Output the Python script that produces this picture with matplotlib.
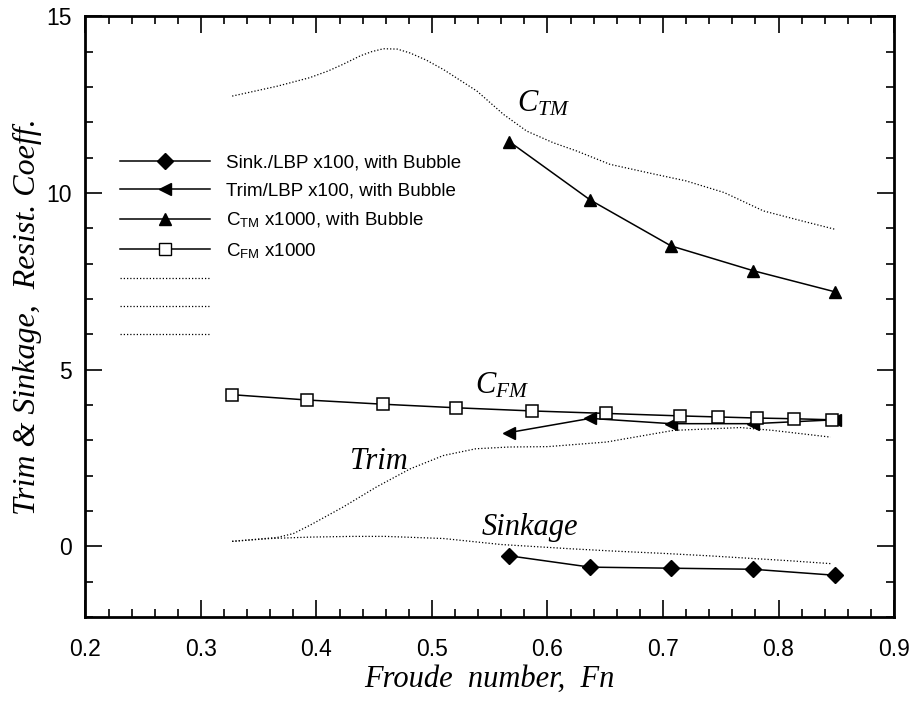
import matplotlib
matplotlib.use("Agg")
import matplotlib.pyplot as plt
from matplotlib.lines import Line2D

plt.rcParams['mathtext.fontset'] = 'custom'
plt.rcParams['mathtext.rm'] = 'Liberation Sans'
plt.rcParams['mathtext.it'] = 'Liberation Serif:italic'
plt.rcParams['font.family'] = 'Liberation Sans'

# measured points, with bubble
fn_bubble = [0.567, 0.637, 0.707, 0.778, 0.849]
sink_bubble = [-0.27, -0.59, -0.62, -0.65, -0.82]
trim_bubble = [3.22, 3.62, 3.47, 3.47, 3.58]
ctm_bubble = [11.45, 9.80, 8.50, 7.80, 7.20]

# frictional resistance
fn_cfm = [0.327, 0.392, 0.458, 0.521, 0.587, 0.651, 0.715, 0.748, 0.781, 0.813, 0.846]
cfm = [4.29, 4.14, 4.02, 3.92, 3.83, 3.76, 3.69, 3.66, 3.63, 3.61, 3.58]

# without bubble (dotted)
fn_ctm = [0.327, 0.366, 0.394, 0.410, 0.423, 0.438, 0.448, 0.458, 0.470, 0.481,
          0.495, 0.510, 0.539, 0.562, 0.582, 0.605, 0.625, 0.654, 0.690, 0.720,
          0.753, 0.770, 0.787, 0.820, 0.849]
ctm = [12.74, 13.02, 13.26, 13.45, 13.64, 13.88, 14.00, 14.08, 14.07, 13.96,
       13.76, 13.49, 12.88, 12.22, 11.75, 11.42, 11.19, 10.81, 10.55, 10.34,
       10.01, 9.75, 9.49, 9.21, 8.97]

fn_trim = [0.327, 0.366, 0.380, 0.394, 0.423, 0.452, 0.481, 0.510, 0.538, 0.567,
           0.600, 0.651, 0.709, 0.767, 0.795, 0.845]
trim = [0.14, 0.25, 0.36, 0.59, 1.11, 1.68, 2.19, 2.57, 2.76, 2.81,
        2.82, 2.95, 3.28, 3.36, 3.28, 3.09]

fn_sink = [0.327, 0.360, 0.394, 0.430, 0.460, 0.510, 0.560, 0.620, 0.660, 0.700,
           0.740, 0.780, 0.810, 0.845]
sink = [0.14, 0.22, 0.26, 0.28, 0.28, 0.22, 0.05, -0.07, -0.14, -0.20,
        -0.27, -0.35, -0.41, -0.49]

fig = plt.figure(figsize=(9.16, 7.09), dpi=100)
ax = fig.add_axes([0.0933, 0.1298, 0.8827, 0.8473])

lw = 1.1
ax.plot(fn_bubble, sink_bubble, '-', color='k', lw=lw, marker='D', ms=8, mfc='k')
ax.plot(fn_bubble, trim_bubble, '-', color='k', lw=lw, marker='<', ms=9, mfc='k')
ax.plot(fn_bubble, ctm_bubble, '-', color='k', lw=lw, marker='^', ms=9, mfc='k')
ax.plot(fn_cfm, cfm, '-', color='k', lw=lw, marker='s', ms=8, mfc='white', mew=1.1)

dot = dict(color='k', lw=0.9, linestyle=(0, (1, 1.6)))
ax.plot(fn_ctm, ctm, **dot)
ax.plot(fn_trim, trim, **dot)
ax.plot(fn_sink, sink, **dot)

ann = dict(fontsize=22)
ax.text(0.574, 12.3, r'$C_{TM}$', **ann)
ax.text(0.537, 4.32, r'$C_{FM}$', **ann)
ax.text(0.429, 2.2, 'Trim', family='Liberation Serif', style='italic', **ann)
ax.text(0.543, 0.31, 'Sinkage', family='Liberation Serif', style='italic', **ann)

handles = [
    Line2D([], [], color='k', lw=lw, marker='D', ms=8),
    Line2D([], [], color='k', lw=lw, marker='<', ms=9),
    Line2D([], [], color='k', lw=lw, marker='^', ms=9),
    Line2D([], [], color='k', lw=lw, marker='s', ms=8, mfc='white'),
    Line2D([], [], **dot),
    Line2D([], [], **dot),
    Line2D([], [], **dot),
]
labels = ['Sink./LBP x100, with Bubble', 'Trim/LBP x100, with Bubble',
          r'C$_{\mathrm{TM}}$ x1000, with Bubble', r'C$_{\mathrm{FM}}$ x1000', '', '', '']
ax.legend(handles, labels, loc='upper left', bbox_to_anchor=(0.033, 0.782),
          frameon=False, fontsize=13.5, handlelength=4.8, handletextpad=0.85,
          labelspacing=0.58, numpoints=1, borderaxespad=0)

ax.set_xlim(0.2, 0.9)
ax.set_ylim(-2, 15)
ax.set_xticks([0.2, 0.3, 0.4, 0.5, 0.6, 0.7, 0.8, 0.9])
ax.set_yticks([0, 5, 10, 15])
ax.set_xticks([0.2 + 0.02 * i for i in range(36)], minor=True)
ax.set_yticks(list(range(-2, 16)), minor=True)
ax.tick_params(which='both', direction='in', top=True, right=True, width=1.2)
ax.tick_params(which='major', length=12, labelsize=16.5)
ax.tick_params(axis='x', which='major', pad=15)
ax.tick_params(axis='y', which='major', pad=10)
ax.tick_params(which='minor', length=6)
for s in ax.spines.values():
    s.set_linewidth(2)

ax.set_xlabel('Froude  number,  Fn', family='Liberation Serif', style='italic',
              fontsize=22)
ax.set_ylabel('Trim & Sinkage,  Resist. Coeff.', family='Liberation Serif',
              style='italic', fontsize=23)
ax.xaxis.set_label_coords(0.5, -0.079)
ax.yaxis.set_label_coords(-0.072, 0.5)
ax.xaxis.label.set_va('top')
ax.yaxis.label.set_va('center')

fig.savefig('out.png', dpi=100)
